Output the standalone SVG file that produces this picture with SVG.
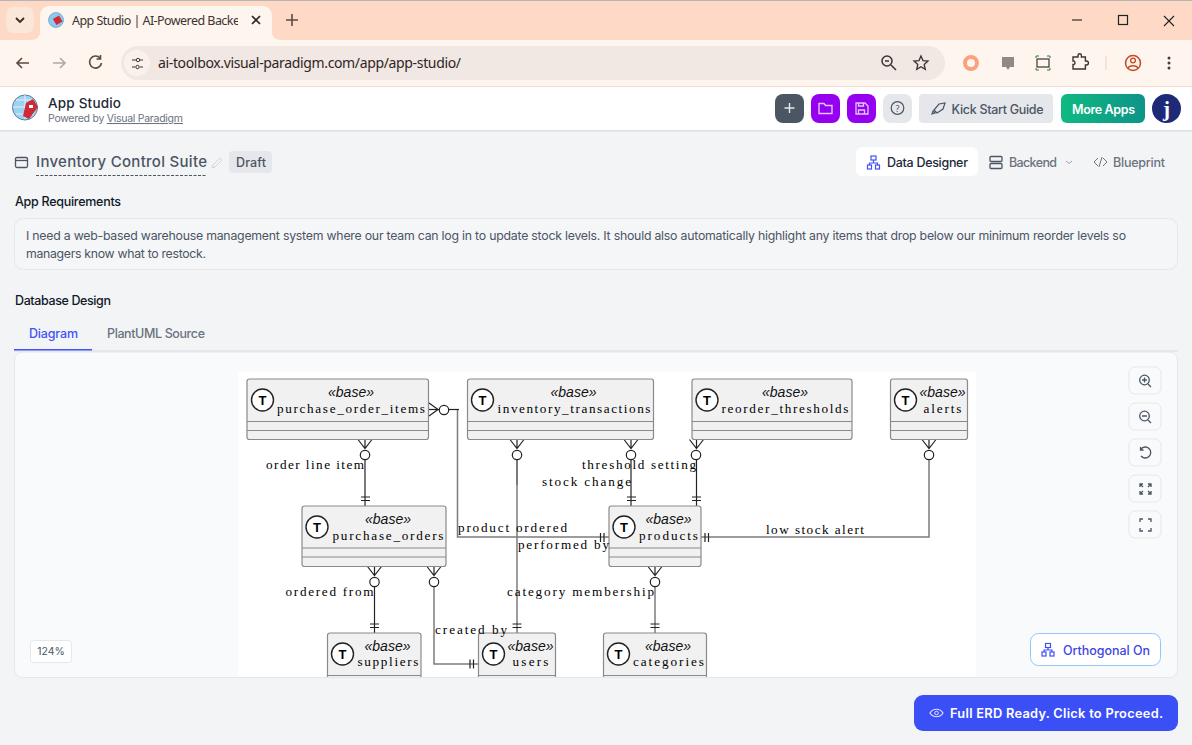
<svg xmlns="http://www.w3.org/2000/svg" width="1192" height="745" viewBox="0 0 1192 745">
<style>
text{font-family:"Noto Sans","Open Sans","Liberation Sans",sans-serif}
.ui{font-family:Inter,"Noto Sans",sans-serif}
.b{fill:#f1f1f1;stroke:#8a8a8a;stroke-width:1.2}
.s{stroke:#8a8a8a;stroke-width:1.2;fill:none}
.tc{fill:#fff;stroke:#222;stroke-width:1.4}
.tl{font-family:"Liberation Sans",sans-serif;font-weight:700;font-size:13px;text-anchor:middle;fill:#000}
.st{font-family:"Liberation Sans",sans-serif;font-style:italic;font-size:14px;text-anchor:middle;fill:#111}
.nm,.lb{font-family:"Liberation Serif",serif;font-size:13.2px;fill:#000}
.nm{text-anchor:middle}
.c{fill:none;stroke:#7c7c7c;stroke-width:1.5}
.k{fill:none;stroke:#222;stroke-width:1.2}
.o{fill:#fff;stroke:#222;stroke-width:1.2}
.ic{fill:none;stroke:#4b5563;stroke-width:1.3}
.btn{fill:#f9fafb;stroke:#e5e7eb}
</style>
<defs>
<clipPath id="dg"><rect x="238" y="372" width="738" height="305"/></clipPath>
<clipPath id="tb"><rect x="60" y="8" width="178" height="26"/></clipPath>
<linearGradient id="gr" x1="0" x2="1"><stop offset="0" stop-color="#10b981"/><stop offset="1" stop-color="#0d9488"/></linearGradient>
</defs>
<rect width="1192" height="745" fill="#f3f4f6"/>
<g id="browser">
<rect width="1192" height="40" fill="#fdd9c6"/>
<rect x="0" y="0" width="1192" height="1" fill="#b5b5b5"/>
<rect x="6" y="7" width="28" height="26" rx="8" fill="#fbe6da"/>
<path d="M16 18l4 4 4-4" fill="none" stroke="#3a2a22" stroke-width="1.8"/>
<path d="M30 40c8 0 10-4 10-9V16c0-6 4-10 10-10h212c6 0 10 4 10 10v15c0 5 2 9 10 9z" fill="#fff5ef"/>
<circle cx="56" cy="20" r="7.500" fill="#8ec8ee" stroke="#5a8fb5" stroke-width=".6"/><rect x="54" y="17" width="7" height="7" fill="#cf2a37" transform="rotate(-30 57 20)"/>
<text x="72" y="25" font-size="12.500" fill="#3b3431" clip-path="url(#tb)" textLength="168">App Studio | AI-Powered Backe</text>
<path d="M252 16l8 8m0-8l-8 8" stroke="#2f2623" stroke-width="1.700"/>
<path d="M292 14v12m-6-6h12" stroke="#5a4a42" stroke-width="1.600"/>
<path d="M1072 20h10" stroke="#222" stroke-width="1.100"/><rect x="1118.500" y="15.500" width="9" height="9" fill="none" stroke="#222" stroke-width="1.200"/><path d="M1164 16l10 10m0-10l-10 10" stroke="#222" stroke-width="1.100"/>
<rect y="40" width="1192" height="47" fill="#fff5ef"/>
<rect y="86" width="1192" height="1" fill="#f7d9cc"/>
<path d="M29 63H17m5-5l-5 5 5 5" fill="none" stroke="#5a4a42" stroke-width="1.600"/>
<path d="M53 63h12m-5-5l5 5-5 5" fill="none" stroke="#b3a8a2" stroke-width="1.600"/>
<path d="M100 58a6 6 0 1 0 1.500 5M100.500 55v4h-4" fill="none" stroke="#5a4a42" stroke-width="1.600"/>
<rect x="121" y="46" width="824" height="34" rx="17" fill="#f1e7e3"/>
<circle cx="137" cy="63" r="13" fill="#fbf1ec"/>
<path d="M132 60h4m4 0h3M132 67h3m5 0h3" stroke="#3b3431" stroke-width="1.200"/><circle cx="138" cy="60" r="1.700" fill="none" stroke="#3b3431"/><circle cx="137.500" cy="67" r="1.700" fill="none" stroke="#3b3431"/>
<text x="158" y="68" font-size="14" fill="#2f2623" textLength="303">ai-toolbox.visual-paradigm.com/app/app-studio/</text>
<circle cx="887" cy="61" r="5" fill="none" stroke="#3b3431" stroke-width="1.500"/><path d="M891 65l5 5M885 61h4" stroke="#3b3431" stroke-width="1.500"/>
<path d="M921 56l2 4.600 5 .5-3.800 3.300 1.100 5-4.300-2.600-4.300 2.600 1.100-5-3.800-3.300 5-.5z" fill="none" stroke="#3b3431" stroke-width="1.300"/>
<circle cx="971" cy="63" r="6" fill="none" stroke="#f8a27f" stroke-width="4"/>
<path d="M1002 57h12v10h-4l-2 3-2-3h-4z" fill="#8e8a88"/>
<rect x="1037" y="59" width="12" height="8" fill="none" stroke="#3b3431" stroke-width="1.200"/><path d="M1036 58v-2h3M1047 56h3v2M1036 68v2h3M1047 70h3v-2" fill="none" stroke="#2a7a3a" stroke-width="1"/>
<path d="M1073 57h5v-1.500a1.700 1.700 0 0 1 3.400 0V57h4v4h1a2 2 0 0 1 0 4h-1v4h-12.400v-4.500h1a2 2 0 0 0 0-3.500h-1z" fill="none" stroke="#3b3431" stroke-width="1.400"/>
<path d="M1106 56v14" stroke="#f6cdb9"/>
<circle cx="1133" cy="63" r="7.500" fill="none" stroke="#c8481e" stroke-width="1.500"/><circle cx="1133" cy="60.500" r="2.400" fill="none" stroke="#c8481e" stroke-width="1.300"/><path d="M1128 68c1.500-3 8.500-3 10 0" fill="none" stroke="#c8481e" stroke-width="1.300"/>
<circle cx="1169" cy="58" r="1.500" fill="#4a3d37"/><circle cx="1169" cy="63" r="1.500" fill="#4a3d37"/><circle cx="1169" cy="68" r="1.500" fill="#4a3d37"/>
</g>
<g id="app-header">
<rect y="87" width="1192" height="43" fill="#fff"/>
<rect y="130" width="1192" height="1.500" fill="#dcdee2"/>
<circle cx="25" cy="107.500" r="12.500" fill="#9ed2f2" stroke="#5f7f96"/>
<path d="M13 107h24M25 95v24M16 100h18M16 114h18" stroke="#fff" stroke-width=".7"/>
<path d="M26 103l7-4 5 8-9 12-6-3z" fill="#cf2a37"/><rect x="29" y="105" width="4" height="3" fill="#fff"/>
<text x="48" y="108" font-size="13.500" font-weight="500" fill="#1f2937" class="ui" textLength="73">App Studio</text>
<text x="48" y="122" font-size="10.500" fill="#6b7280" class="ui" textLength="135">Powered by <tspan text-decoration="underline">Visual Paradigm</tspan></text>
<rect x="775" y="94" width="29" height="29" rx="8" fill="#4b5563"/><path d="M789.500 103v10m-5-5h10" stroke="#e5e7eb" stroke-width="1.400"/>
<rect x="811" y="94" width="29" height="29" rx="8" fill="#9500f0"/><path d="M819 103.500h5l1.500 2h6.500v8h-13z" fill="none" stroke="#e4c5ff" stroke-width="1.400"/>
<rect x="847" y="94" width="29" height="29" rx="8" fill="#9500f0"/><path d="M856 103h9l3 3v8h-12zM858.500 103v3h5v-3M858.500 114v-4h6v4" fill="none" stroke="#e4c5ff" stroke-width="1.300"/>
<rect x="883" y="94" width="29" height="29" rx="8" fill="#e5e7eb"/><circle cx="897.500" cy="108" r="6.300" fill="none" stroke="#4b5563" stroke-width="1.200"/><text x="897.500" y="111.500" font-size="9" text-anchor="middle" fill="#4b5563">?</text>
<rect x="919" y="94" width="134" height="29" rx="4" fill="#e5e7eb"/>
<path d="M932 114l3-1-2-2zM934 110l3 3 6-4 2-6-6 1z" fill="none" stroke="#4b5563" stroke-width="1.200"/>
<text x="951.500" y="114" font-size="12.500" font-weight="500" fill="#4b5563" class="ui" textLength="92">Kick Start Guide</text>
<rect x="1061" y="94" width="84" height="29" rx="6" fill="url(#gr)"/>
<text x="1072" y="114" font-size="12.500" font-weight="600" fill="#fff" class="ui" textLength="63">More Apps</text>
<circle cx="1166.500" cy="108.500" r="14.500" fill="#1e2a78"/>
<text x="1166.500" y="116" font-size="21" font-weight="700" text-anchor="middle" fill="#fff" style="font-family:'Liberation Serif',serif">j</text>
</g>
<g id="title-bar">
<rect x="15.500" y="157.500" width="12" height="10" rx="1.500" class="ic" fill="none"/><path d="M15.500 160.500h12" class="ic"/>
<text x="36" y="167" font-size="15" font-weight="500" fill="#4b5563" class="ui" textLength="171">Inventory Control Suite</text>
<path d="M36 175.500h171" stroke="#4b5563" stroke-dasharray="3 1.500"/>
<path d="M213 165l7-7 2 2-7 7-3 1z" fill="none" stroke="#d1d5db"/>
<rect x="229" y="151" width="43" height="22" rx="4" fill="#e5e7eb"/>
<text x="236" y="167" font-size="12.500" font-weight="500" fill="#4b5563" class="ui" textLength="30">Draft</text>
<rect x="856" y="147" width="122" height="29" rx="6" fill="#fff"/>
<g fill="none" stroke="#3f51f0" stroke-width="1.200"><rect x="871" y="156" width="5" height="4"/><rect x="867.500" y="165" width="4" height="4"/><rect x="875.500" y="165" width="4" height="4"/><path d="M873.500 160v3m-4 2v-2h8v2"/></g>
<text x="887" y="167" font-size="12.500" font-weight="500" fill="#1f2937" class="ui" textLength="81">Data Designer</text>
<rect x="990" y="156.500" width="12" height="5" rx="1" class="ic"/><rect x="990" y="163.500" width="12" height="5" rx="1" class="ic"/>
<text x="1009" y="167" font-size="12.500" font-weight="500" fill="#6b7280" class="ui" textLength="48">Backend</text>
<path d="M1066 161l3 2.500 3-2.500" fill="none" stroke="#9ca3af"/>
<path d="M1098 158l-4 4 4 4M1103 158l4 4-4 4M1102 157l-3 10" fill="none" stroke="#6b7280"/>
<text x="1113" y="167" font-size="12.500" font-weight="500" fill="#6b7280" class="ui" textLength="52">Blueprint</text>
</g>
<g id="requirements">
<text x="15" y="206" font-size="12.500" font-weight="500" fill="#111827" class="ui" textLength="106">App Requirements</text>
<rect x="14.500" y="218.500" width="1163" height="51" rx="9" fill="#f5f6f8" stroke="#e5e7eb"/>
<text x="26" y="240" font-size="12.300" fill="#4b5563" class="ui" textLength="1100">I need a web-based warehouse management system where our team can log in to update stock levels. It should also automatically highlight any items that drop below our minimum reorder levels so</text>
<text x="26" y="258" font-size="12.300" fill="#4b5563" class="ui" textLength="180">managers know what to restock.</text>
<text x="15" y="305" font-size="12.500" font-weight="500" fill="#111827" class="ui" textLength="96">Database Design</text>
<text x="29" y="338" font-size="12.500" font-weight="500" fill="#4353f5" class="ui" textLength="49">Diagram</text>
<text x="107" y="338" font-size="12.500" font-weight="500" fill="#6b7280" class="ui" textLength="98">PlantUML Source</text>
<rect x="14" y="350" width="1164" height="2" fill="#e5e7eb"/>
<rect x="14" y="349" width="78" height="1.500" fill="#4353f5"/>
</g>
<rect x="14.500" y="352" width="1163" height="325.500" rx="8" fill="#f9fafb" stroke="#e5e7eb"/>
<rect x="238" y="372" width="738" height="305" fill="#fff"/>
<g clip-path="url(#dg)">
<g id="connectors">
<path class="c" d="M457.500 409.500v127.500h152"/><path class="k" d="M429 409.500h30"/>
<path class="k" d="M517 454v31"/><path class="c" d="M517 485v148"/>
<path class="k" d="M365 459v47"/>
<path class="k" d="M631 459v47"/>
<path class="k" d="M696.500 459v47"/>
<path class="c" d="M701 537h228v-77"/>
<path class="k" d="M374.500 586v47"/>
<path class="c" d="M434 586v78h44"/>
<path class="c" d="M655 586v47"/>
<g id="ends">
<path class="k" d="M429 403l9 6.500-9 6.500M358 439.500l7 9 7-9M365 439.500v9M510 439.500l7 9 7-9M517 439.500v9M624 439.500l7 9 7-9M631 439.500v9M689.500 439.500l7 9 7-9M696.500 439.500v9M922 439.500l7 9 7-9M929 439.500v9M367.500 566.500l7 9 7-9M374.500 566.500v9M427 566.500l7 9 7-9M434 566.500v9M648 566.500l7 9 7-9M655 566.500v9"/>
<circle class="o" cx="444" cy="410" r="4.700"/><circle class="o" cx="365" cy="455" r="4.700"/><circle class="o" cx="517" cy="455" r="4.700"/><circle class="o" cx="631" cy="455" r="4.700"/><circle class="o" cx="696" cy="455" r="4.700"/><circle class="o" cx="929" cy="455" r="4.700"/><circle class="o" cx="374.500" cy="582" r="4.700"/><circle class="o" cx="434" cy="582" r="4.700"/><circle class="o" cx="655" cy="582" r="4.700"/>
<path class="k" d="M361 497h9M361 500.500h9M627 497h9M627 500.500h9M692 497h9M692 500.500h9M370 624h9M370 627.500h9M512.500 624h9M512.500 627.500h9M650.500 624h9M650.500 627.500h9M600.500 533v9M604 533v9M705 533v9M708.500 533v9M470 659.500v9M473.500 659.500v9"/>
</g>
</g>
<g id="purchase_order_items"><rect class="b" x="247" y="379" width="181.500" height="60.500" rx="2.500"/><path class="s" d="M247 421.500h181.500M247 430.500h181.500"/><circle class="tc" cx="262.500" cy="400" r="11"/><text class="tl" x="262.500" y="404.500">T</text><text class="st" x="351" y="397">«base»</text><text class="nm" x="351" y="413" textLength="148">purchase_order_items</text></g>
<g id="inventory_transactions"><rect class="b" x="467.500" y="379" width="186" height="60.500" rx="2.500"/><path class="s" d="M467.500 421.500h186M467.500 430.500h186"/><circle class="tc" cx="482.500" cy="400" r="11"/><text class="tl" x="482.500" y="404.500">T</text><text class="st" x="573.500" y="397">«base»</text><text class="nm" x="574" y="413" textLength="153">inventory_transactions</text></g>
<g id="reorder_thresholds"><rect class="b" x="692" y="379" width="160" height="60.500" rx="2.500"/><path class="s" d="M692 421.500h160M692 430.500h160"/><circle class="tc" cx="707" cy="400" r="11"/><text class="tl" x="707" y="404.500">T</text><text class="st" x="785" y="397">«base»</text><text class="nm" x="785" y="413" textLength="127">reorder_thresholds</text></g>
<g id="alerts"><rect class="b" x="890.500" y="379" width="77" height="60.500" rx="2.500"/><path class="s" d="M890.500 421.500h77M890.500 430.500h77"/><circle class="tc" cx="905.500" cy="400" r="11"/><text class="tl" x="905.500" y="404.500">T</text><text class="st" x="942.500" y="397">«base»</text><text class="nm" x="942.500" y="413" textLength="38">alerts</text></g>
<g id="purchase_orders"><rect class="b" x="302" y="506" width="144" height="60.500" rx="2.500"/><path class="s" d="M302 548h144M302 557h144"/><circle class="tc" cx="317" cy="527" r="11"/><text class="tl" x="317" y="531.500">T</text><text class="st" x="388" y="524">«base»</text><text class="nm" x="388" y="540" textLength="111">purchase_orders</text></g>
<g id="products"><rect class="b" x="609" y="506" width="92" height="60.500" rx="2.500"/><path class="s" d="M609 548h92M609 557h92"/><circle class="tc" cx="624" cy="527" r="11"/><text class="tl" x="624" y="531.500">T</text><text class="st" x="668.500" y="524">«base»</text><text class="nm" x="668.500" y="540" textLength="59">products</text></g>
<g id="suppliers"><rect class="b" x="327.500" y="633" width="93.500" height="60" rx="2.500"/><path class="s" d="M327.500 675.500h93.500"/><circle class="tc" cx="342.500" cy="654" r="11"/><text class="tl" x="342.500" y="658.500">T</text><text class="st" x="387.500" y="651">«base»</text><text class="nm" x="388" y="666" textLength="61">suppliers</text></g>
<g id="users"><rect class="b" x="478.500" y="633" width="77" height="60" rx="2.500"/><path class="s" d="M478.500 675.500h77"/><circle class="tc" cx="493.500" cy="654" r="11"/><text class="tl" x="493.500" y="658.500">T</text><text class="st" x="530.500" y="651">«base»</text><text class="nm" x="530.500" y="666" textLength="36">users</text></g>
<g id="categories"><rect class="b" x="603.500" y="633" width="103" height="60" rx="2.500"/><path class="s" d="M603.500 675.500h103"/><circle class="tc" cx="618.500" cy="654" r="11"/><text class="tl" x="618.500" y="658.500">T</text><text class="st" x="668" y="651">«base»</text><text class="nm" x="668.500" y="666" textLength="71">categories</text></g>
<g id="labels">
<text class="lb" x="266" y="469" textLength="98">order line item</text>
<text class="lb" x="582" y="469" textLength="114">threshold setting</text>
<text class="lb" x="542" y="486" textLength="89">stock change</text>
<text class="lb" x="458" y="532" textLength="109">product ordered</text>
<text class="lb" x="518" y="549" textLength="91">performed by</text>
<text class="lb" x="766" y="534" textLength="98">low stock alert</text>
<text class="lb" x="285.500" y="596" textLength="88">ordered from</text>
<text class="lb" x="507" y="596" textLength="147">category membership</text>
<text class="lb" x="435" y="634" textLength="72">created by</text>
</g>
</g>
<g id="zoom-controls">
<rect class="btn" x="1129" y="367" width="32" height="27" rx="6"/><circle class="ic" cx="1144.500" cy="380" r="4.800"/><path class="ic" d="M1148 384l3 3M1142 380h5M1144.500 377.500v5"/>
<rect class="btn" x="1129" y="403" width="32" height="27" rx="6"/><circle class="ic" cx="1144.500" cy="416" r="4.800"/><path class="ic" d="M1148 420l3 3M1142 416h5"/>
<rect class="btn" x="1129" y="439" width="32" height="27" rx="6"/><path class="ic" d="M1141 449a5.500 5.500 0 1 1 0 7M1140.500 447v3h3"/>
<rect class="btn" x="1129" y="475" width="32" height="27" rx="6"/><path class="ic" d="M1140 484l3 3M1140 487v-3h3M1151 484l-3 3M1151 487v-3h-3M1140 494l3-3M1140 491v3h3M1151 494l-3-3M1151 491v3h-3" stroke-width="1"/>
<rect class="btn" x="1129" y="511" width="32" height="27" rx="6"/><path class="ic" d="M1140 522v-3h3M1148 519h3v3M1140 528v3h3M1151 528v3h-3" stroke-width="1"/>
</g>
<g id="zoom-level"><rect x="30.500" y="640.500" width="41" height="22" rx="3" fill="#fff" stroke="#e5e7eb"/><text x="51" y="655" font-size="10.500" text-anchor="middle" fill="#4b5563" class="ui">124%</text></g>
<g id="orthogonal-btn"><rect x="1030.500" y="633.500" width="130" height="32" rx="8" fill="#fff" stroke="#93c5fd"/>
<g fill="none" stroke="#3f51f0" stroke-width="1.200"><rect x="1045.500" y="643.500" width="5" height="4"/><rect x="1042" y="652" width="4" height="4"/><rect x="1050" y="652" width="4" height="4"/><path d="M1048 647.500v2.500m-4 2v-2h8v2"/></g>
<text x="1063" y="655" font-size="12.500" font-weight="500" fill="#3f46e5" class="ui" textLength="87">Orthogonal On</text></g>
<g id="proceed-btn"><rect x="914" y="695" width="264" height="36" rx="9" fill="#3b4ff6"/>
<path d="M930 713c3-5 10-5 13 0-3 5-10 5-13 0z" fill="none" stroke="#dfe3ff" stroke-width="1.200"/><circle cx="936.500" cy="713" r="1.800" fill="none" stroke="#dfe3ff"/>
<text x="950" y="718" font-size="12.800" font-weight="600" fill="#fff" class="ui" textLength="213">Full ERD Ready. Click to Proceed.</text></g>
</svg>
